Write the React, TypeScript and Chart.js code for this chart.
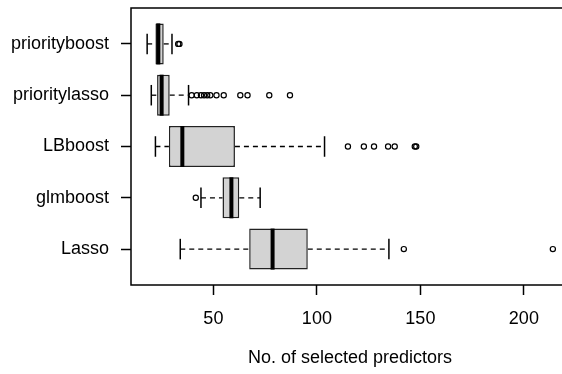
import { useEffect, useRef } from "react";
import { Chart, registerables } from "chart.js";

Chart.register(...registerables);

// Groups from bottom (position 1) to top (position 5)
const categories = ["Lasso", "glmboost", "LBboost", "prioritylasso", "priorityboost"];
const lowerWhisker = [34, 44, 22, 20, 18];
const lowerQuartile = [67.3, 54.4, 28.5, 22.8, 22];
const medians = [78.6, 58.7, 35, 25, 23.4];
const upperQuartile = [95.6, 62.5, 60.4, 28.9, 26];
const upperWhisker = [134.8, 72.6, 103.7, 38, 30];
const outliers = [
  [142, 214],
  [41.5],
  [115, 122.7, 127.6, 134.4, 137.6, 147.3, 148],
  [39.5, 42, 44, 45.5, 47, 48.5, 51.5, 55, 63, 66.5, 77, 87],
  [33, 33.6],
];
const xTicks = [50, 100, 150, 200];
const xTitle = "No. of selected predictors";

const FONT = "'Liberation Sans', Arial, sans-serif";

const framePlugin = {
  id: "frame",
  afterDraw(chart: any) {
    const { ctx, chartArea: a } = chart;
    ctx.save();
    ctx.strokeStyle = "#000";
    ctx.lineWidth = 1.5;
    ctx.strokeRect(a.left, a.top, a.right - a.left, a.bottom - a.top);
    ctx.restore();
  },
};

export default function App() {
  const ref = useRef<HTMLCanvasElement | null>(null);

  useEffect(() => {
    if (!ref.current) return;
    const pos = categories.map((_, i) => i + 1);
    const half = 0.4;
    const staple = 0.2;

    const datasets: any[] = [];

    pos.forEach((p, i) => {
      // whiskers (dashed)
      datasets.push({
        type: "line",
        data: [
          { x: lowerWhisker[i], y: p },
          { x: lowerQuartile[i], y: p },
        ],
        borderColor: "#000",
        borderWidth: 1.3,
        borderDash: [5, 4],
        pointRadius: 0,
        order: 4,
      });
      datasets.push({
        type: "line",
        data: [
          { x: upperQuartile[i], y: p },
          { x: upperWhisker[i], y: p },
        ],
        borderColor: "#000",
        borderWidth: 1.3,
        borderDash: [5, 4],
        pointRadius: 0,
        order: 4,
      });
      // staples
      datasets.push({
        type: "line",
        data: [
          { x: lowerWhisker[i], y: p - staple },
          { x: lowerWhisker[i], y: p + staple },
        ],
        borderColor: "#000",
        borderWidth: 1.5,
        pointRadius: 0,
        order: 3,
      });
      datasets.push({
        type: "line",
        data: [
          { x: upperWhisker[i], y: p - staple },
          { x: upperWhisker[i], y: p + staple },
        ],
        borderColor: "#000",
        borderWidth: 1.5,
        pointRadius: 0,
        order: 3,
      });
      // medians
      datasets.push({
        type: "line",
        data: [
          { x: medians[i], y: p - half },
          { x: medians[i], y: p + half },
        ],
        borderColor: "#000",
        borderWidth: 4,
        pointRadius: 0,
        order: 1,
      });
    });

    // boxes
    datasets.push({
      type: "bar",
      indexAxis: "y",
      data: pos.map((p, i) => ({ x: [lowerQuartile[i], upperQuartile[i]], y: p })),
      backgroundColor: "#d3d3d3",
      borderColor: "#222",
      borderWidth: 1.5,
      borderSkipped: false,
      categoryPercentage: 0.8,
      barPercentage: 1,
      order: 2,
    });

    // outliers
    datasets.push({
      type: "scatter",
      data: outliers.flatMap((arr, i) => arr.map((v) => ({ x: v, y: pos[i] }))),
      pointStyle: "circle",
      pointRadius: 2.6,
      pointBorderWidth: 1.2,
      borderColor: "#000",
      backgroundColor: "rgba(0,0,0,0)",
      order: 0,
    });

    const chart = new Chart(ref.current, {
      type: "scatter",
      data: { datasets },
      options: {
        animation: false,
        responsive: false,
        maintainAspectRatio: false,
        events: [],
        layout: { padding: { top: 8, right: 11, left: 0, bottom: 0 } },
        plugins: { legend: { display: false }, tooltip: { enabled: false } },
        scales: {
          x: {
            type: "linear",
            position: "bottom",
            min: 10.2,
            max: 221.8,
            offset: false,
            afterBuildTicks: (s: any) => {
              s.ticks = xTicks.map((v) => ({ value: v }));
            },
            afterFit: (s: any) => {
              s.height = 89;
            },
            ticks: {
              color: "#000",
              font: { family: FONT, size: 18 },
              padding: 13,
              maxRotation: 0,
              autoSkip: false,
            },
            grid: {
              display: true,
              offset: false,
              drawOnChartArea: false,
              drawTicks: true,
              tickLength: 10,
              tickColor: "#000",
              tickWidth: 1.5,
            },
            border: { display: false },
            title: {
              display: true,
              text: xTitle,
              color: "#000",
              font: { family: FONT, size: 18 },
              padding: { top: 0, bottom: 5 },
            },
          },
          y: {
            type: "linear",
            position: "left",
            min: 0.3,
            max: 5.7,
            offset: false,
            afterBuildTicks: (s: any) => {
              s.ticks = categories.map((_, i) => ({ value: i + 1 }));
            },
            afterFit: (s: any) => {
              s.width = 131;
              s.paddingTop = 0;
              s.paddingBottom = 0;
            },
            ticks: {
              color: "#000",
              font: { family: FONT, size: 18 },
              padding: 12,
              autoSkip: false,
              callback: (v: any) => categories[Math.round(Number(v)) - 1] ?? "",
            },
            grid: {
              display: true,
              offset: false,
              drawOnChartArea: false,
              drawTicks: true,
              tickLength: 10,
              tickColor: "#000",
              tickWidth: 1.5,
            },
            border: { display: false },
          },
        },
      },
      plugins: [framePlugin],
    } as any);

    return () => chart.destroy();
  }, []);

  return (
    <div
      style={{
        position: "absolute",
        left: 0,
        top: 0,
        width: 562,
        height: 374,
        overflow: "hidden",
        background: "#fff",
      }}
    >
      <canvas ref={ref} width={580} height={374} style={{ display: "block" }} />
    </div>
  );
}
